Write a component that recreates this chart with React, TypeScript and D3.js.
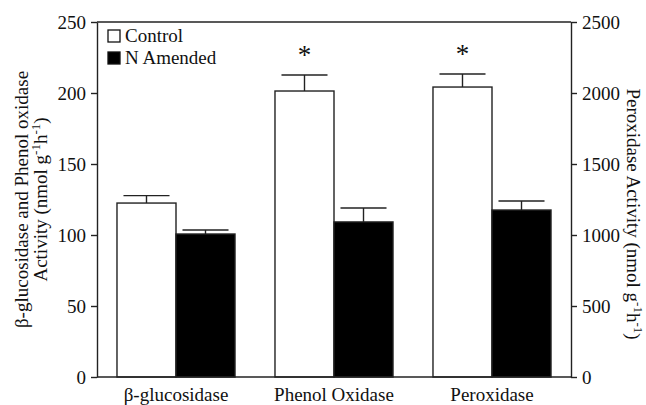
import React, { useEffect, useRef } from "react";
import * as d3 from "d3";

// chart data
const categories = ["β-glucosidase", "Phenol Oxidase", "Peroxidase"];
const controlMeans = [122.5, 201.4, 2042];
const controlErrors = [5.2, 11.3, 92];
const amendedMeans = [100.7, 109.2, 1176];
const amendedErrors = [2.8, 9.8, 63];
const significant = [false, true, true];
const leftTicks = [0, 50, 100, 150, 200, 250];
const rightTicks = [0, 500, 1000, 1500, 2000, 2500];
const seriesNames = ["Control", "N Amended"];

export default function App() {
  const ref = useRef<SVGSVGElement | null>(null);

  useEffect(() => {
    document.body.style.margin = "0";
    const svg = d3.select(ref.current);
    svg.selectAll("*").remove();

    const font = "'Liberation Serif', 'Times New Roman', serif";
    const fs = 19;
    const left = 97, right = 571, top = 22, bottom = 377;

    const x = d3.scaleBand<string>()
      .domain(categories)
      .range([left, right])
      .paddingInner(0.253)
      .paddingOuter(0.1265);
    const xSub = d3.scaleBand<number>()
      .domain([0, 1])
      .range([0, x.bandwidth()]);
    const yLeft = d3.scaleLinear().domain([0, 250]).range([bottom, top]);
    const yRight = d3.scaleLinear().domain([0, 2500]).range([bottom, top]);

    // peroxidase uses the right-hand axis
    const yFor = (i: number) => (i === 2 ? yRight : yLeft);

    const rows = categories.map((c, i) => ({
      cat: c,
      i,
      vals: [
        { s: 0, mean: controlMeans[i], err: controlErrors[i] },
        { s: 1, mean: amendedMeans[i], err: amendedErrors[i] },
      ],
    }));

    const g = svg.append("g");

    const groups = g.selectAll(".grp")
      .data(rows)
      .enter()
      .append("g")
      .attr("class", "grp")
      .attr("transform", (d) => "translate(" + x(d.cat) + ",0)");

    const bw = xSub.bandwidth();
    const capW = bw * 0.78;

    groups.each(function (d) {
      const y = yFor(d.i);
      const sel = d3.select(this);
      d.vals.forEach((v) => {
        const bx = xSub(v.s)!;
        const cx = bx + bw / 2;
        sel.append("line")
          .attr("x1", cx).attr("x2", cx)
          .attr("y1", y(v.mean)).attr("y2", y(v.mean + v.err))
          .attr("stroke", "#222").attr("stroke-width", 1.4);
        sel.append("line")
          .attr("x1", cx - capW / 2).attr("x2", cx + capW / 2)
          .attr("y1", y(v.mean + v.err)).attr("y2", y(v.mean + v.err))
          .attr("stroke", "#222").attr("stroke-width", 1.4);
        sel.append("rect")
          .attr("x", bx)
          .attr("y", y(v.mean))
          .attr("width", bw)
          .attr("height", bottom - y(v.mean))
          .attr("fill", v.s === 0 ? "#fff" : "#000")
          .attr("stroke", "#222")
          .attr("stroke-width", 1.4);
      });
      if (significant[d.i]) {
        const v = d.vals[0];
        sel.append("text")
          .attr("x", xSub(0)! + bw / 2)
          .attr("y", y(v.mean + v.err) - 11)
          .attr("text-anchor", "middle")
          .attr("font-family", font)
          .attr("font-size", 27)
          .attr("fill", "#111")
          .text("*");
      }
    });

    // frame
    g.append("line").attr("x1", left).attr("x2", right).attr("y1", top).attr("y2", top)
      .attr("stroke", "#222").attr("stroke-width", 1.4);
    g.append("line").attr("x1", left).attr("x2", right).attr("y1", bottom).attr("y2", bottom)
      .attr("stroke", "#222").attr("stroke-width", 1.4);

    const leftAxis = g.append("g")
      .attr("transform", "translate(" + left + ",0)")
      .call(d3.axisLeft(yLeft).tickValues(leftTicks).tickFormat(d3.format("d")).tickSize(6).tickPadding(5).tickSizeOuter(0));
    const rightAxis = g.append("g")
      .attr("transform", "translate(" + right + ",0)")
      .call(d3.axisRight(yRight).tickValues(rightTicks).tickFormat(d3.format("d")).tickSize(6).tickPadding(5).tickSizeOuter(0));

    [leftAxis, rightAxis].forEach((a) => {
      a.attr("font-family", font).attr("font-size", fs);
      a.select(".domain").attr("stroke", "#222").attr("stroke-width", 1.4);
      a.selectAll(".tick line").attr("stroke", "#222").attr("stroke-width", 1.4);
      a.selectAll(".tick text")
        .attr("font-family", font)
        .attr("font-size", fs)
        .attr("fill", "#111");
    });

    // category labels
    g.selectAll(".cat")
      .data(categories)
      .enter()
      .append("text")
      .attr("class", "cat")
      .attr("x", (d) => x(d)! + x.bandwidth() / 2)
      .attr("y", 401)
      .attr("text-anchor", "middle")
      .attr("font-family", font)
      .attr("font-size", fs)
      .attr("fill", "#111")
      .text((d) => d);

    // legend
    seriesNames.forEach((name, i) => {
      g.append("rect")
        .attr("x", 108).attr("y", 30 + i * 22)
        .attr("width", 12).attr("height", 12)
        .attr("fill", i === 0 ? "#fff" : "#000")
        .attr("stroke", "#111").attr("stroke-width", 1.3);
      g.append("text")
        .attr("x", 125).attr("y", 42 + i * 22)
        .attr("font-family", font)
        .attr("font-size", fs)
        .attr("fill", "#111")
        .text(name);
    });

    // left axis title (two lines)
    const lt = g.append("text")
      .attr("transform", "translate(28," + (top + bottom) / 2 + ") rotate(-90)")
      .attr("text-anchor", "middle")
      .attr("font-family", font)
      .attr("font-size", fs)
      .attr("fill", "#111");
    lt.append("tspan").attr("x", 0).attr("y", 0).text("β-glucosidase and Phenol oxidase");
    const l2 = lt.append("tspan").attr("x", 0).attr("y", 19);
    l2.append("tspan").text("Activity (nmol g");
    l2.append("tspan").attr("font-size", 13).attr("dy", -7).text("-1");
    l2.append("tspan").attr("dy", 7).text("h");
    l2.append("tspan").attr("font-size", 13).attr("dy", -7).text("-1");
    l2.append("tspan").attr("dy", 7).text(")");

    // right axis title
    const rt = g.append("text")
      .attr("transform", "translate(627,214) rotate(90)")
      .attr("text-anchor", "middle")
      .attr("font-family", font)
      .attr("font-size", fs)
      .attr("fill", "#111");
    rt.append("tspan").text("Peroxidase Activity (nmol g");
    rt.append("tspan").attr("font-size", 13).attr("dy", -7).text("-1");
    rt.append("tspan").attr("dy", 7).text("h");
    rt.append("tspan").attr("font-size", 13).attr("dy", -7).text("-1");
    rt.append("tspan").attr("dy", 7).text(")");
  }, []);

  return <svg ref={ref} width={646} height={405} style={{ display: "block", background: "#fff" }} />;
}
